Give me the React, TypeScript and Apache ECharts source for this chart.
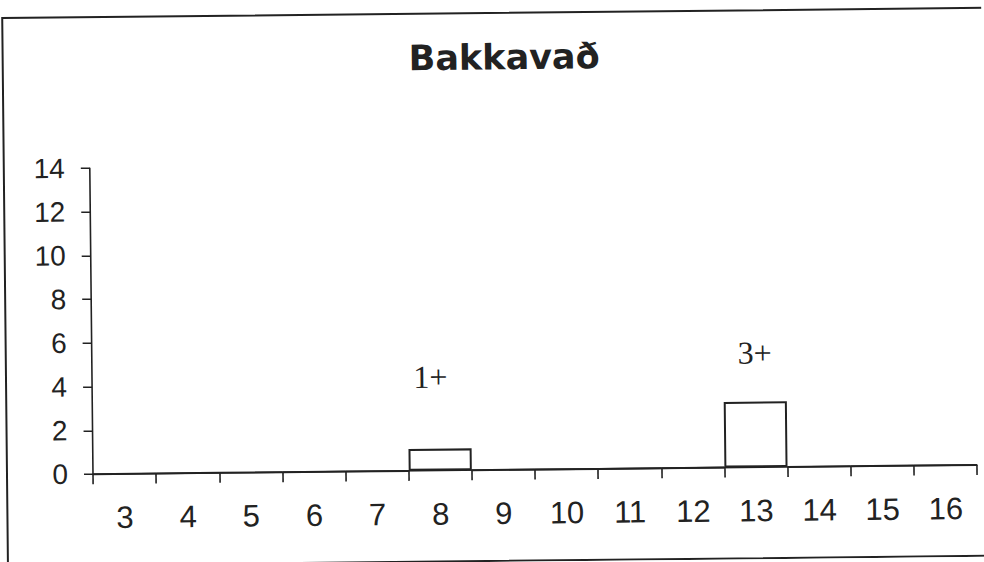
import React, { useEffect, useRef } from "react";
import * as echarts from "echarts";

const titleText = "Bakkavað";
const categories = ["3", "4", "5", "6", "7", "8", "9", "10", "11", "12", "13", "14", "15", "16"];
const values = [0, 0, 0, 0, 0, 1, 0, 0, 0, 0, 3, 0, 0, 0];
const barLabels = ["", "", "", "", "", "1+", "", "", "", "", "3+", "", "", ""];
const labelDistances = [0, 0, 0, 0, 0, 56, 0, 0, 0, 0, 33, 0, 0, 0];
const labelShiftX = [0, 0, 0, 0, 0, -9, 0, 0, 0, 0, 0, 0, 0, 0];
const yMin = 0;
const yMax = 14;
const yStep = 2;

export default function App() {
  const ref = useRef<HTMLDivElement>(null);
  useEffect(() => {
    if (!ref.current) return;
    const chart = echarts.init(ref.current, null, { renderer: "svg" });
    const ink = "#222";
    chart.setOption({
      animation: false,
      backgroundColor: "#fff",
      title: {
        text: titleText,
        left: 406,
        top: 35,
        textStyle: { fontFamily: "DejaVu Sans", fontWeight: "bold", fontSize: 35, color: ink },
      },
      grid: { left: 91, right: 9, top: 164, bottom: 92 },
      xAxis: {
        type: "category",
        data: categories,
        boundaryGap: true,
        axisLine: { show: true, lineStyle: { color: ink, width: 1.6 } },
        axisTick: { show: true, alignWithLabel: false, length: 10, lineStyle: { color: ink, width: 1.6 } },
        axisLabel: { margin: 28, fontFamily: "Liberation Sans", fontSize: 31, color: ink },
        splitLine: { show: false },
      },
      yAxis: {
        type: "value",
        min: yMin,
        max: yMax,
        interval: yStep,
        axisLine: { show: true, lineStyle: { color: ink, width: 1.6 } },
        axisTick: { show: true, length: 9, lineStyle: { color: ink, width: 1.6 } },
        axisLabel: { margin: 25, fontFamily: "Liberation Sans", fontSize: 28, color: ink },
        splitLine: { show: false },
      },
      series: [
        {
          type: "bar",
          barCategoryGap: "0%",
          itemStyle: { color: "#fff", borderColor: ink, borderWidth: 2 },
          data: values.map((v, i) => ({
            value: v,
            label: {
              show: barLabels[i] !== "",
              position: "top",
              distance: labelDistances[i],
              offset: [labelShiftX[i], 0],
              formatter: barLabels[i],
              fontFamily: "Liberation Serif",
              fontSize: 32,
              color: ink,
            },
          })),
        },
      ],
      graphic: [
        {
          type: "rect",
          shape: { x: 5, y: 13, width: 1010, height: 548 },
          style: { fill: "none", stroke: ink, lineWidth: 2 },
          silent: true,
        },
      ],
    });
    return () => chart.dispose();
  }, []);
  return (
    <div
      ref={ref}
      style={{
        position: "absolute",
        left: 0,
        top: 0,
        width: 984,
        height: 562,
        background: "#fff",
        transform: "rotate(-0.6deg)",
      }}
    />
  );
}
